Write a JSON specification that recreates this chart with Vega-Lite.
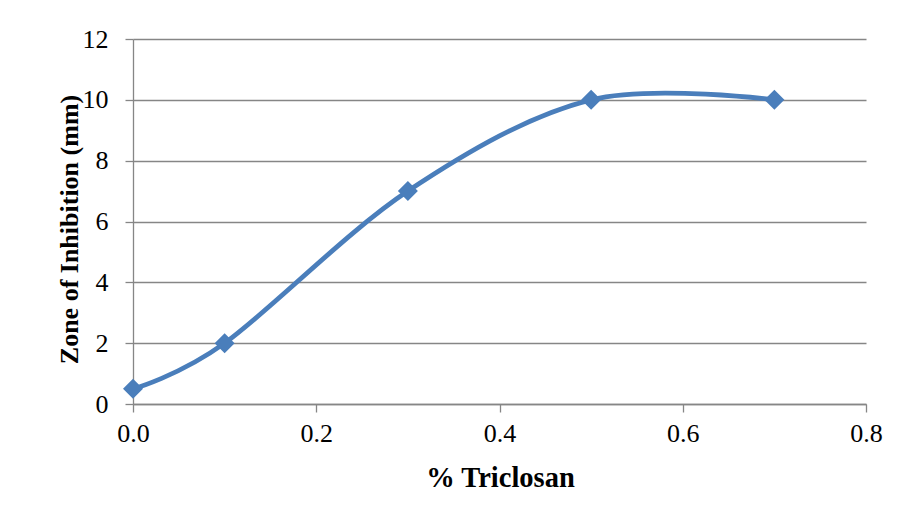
{
  "$schema": "https://vega.github.io/schema/vega-lite/v6.json",
  "width": 733,
  "height": 365,
  "autosize": {"type": "none"},
  "padding": {"left": 133, "top": 39, "right": 38, "bottom": 116},
  "background": "white",
  "config": {
    "view": {"stroke": null},
    "font": "Liberation Serif",
    "axis": {
      "labelFont": "Liberation Serif",
      "titleFont": "Liberation Serif",
      "labelFontSize": 26,
      "titleFontWeight": "bold",
      "labelColor": "black",
      "titleColor": "black",
      "gridColor": "#868686",
      "gridWidth": 1.3,
      "gridOpacity": 1,
      "domainColor": "#868686",
      "domainWidth": 1.3,
      "tickColor": "#868686",
      "tickWidth": 1.3,
      "tickSize": 8
    }
  },
  "data": {
    "values": [
      {"triclosan": 0.0, "zone": 0.5},
      {"triclosan": 0.1, "zone": 2},
      {"triclosan": 0.3, "zone": 7},
      {"triclosan": 0.5, "zone": 10},
      {"triclosan": 0.7, "zone": 10}
    ]
  },
  "encoding": {
    "x": {
      "field": "triclosan",
      "type": "quantitative",
      "title": "% Triclosan",
      "scale": {"domain": [0, 0.8], "nice": false, "zero": false},
      "axis": {"values": [0, 0.2, 0.4, 0.6, 0.8], "format": ".1f", "grid": false, "labelPadding": 8, "labelFlush": false, "titleFontSize": 28.5, "titleX": 367, "titleY": 82, "titleBaseline": "alphabetic", "titleAlign": "center"}
    },
    "y": {
      "field": "zone",
      "type": "quantitative",
      "title": "Zone of Inhibition (mm)",
      "scale": {"domain": [0, 12], "nice": false},
      "axis": {"values": [0, 2, 4, 6, 8, 10, 12], "grid": true, "labelPadding": 17, "labelFlush": false, "titleFontSize": 26, "titleX": -56, "titleY": 190, "titleBaseline": "alphabetic", "titleAlign": "center", "titleAngle": -90}
    }
  },
  "layer": [
    {
      "mark": {"type": "line", "interpolate": "cardinal", "color": "#4A7EBB", "strokeWidth": 4.8}
    },
    {
      "mark": {"type": "point", "shape": "diamond", "filled": true, "size": 400, "color": "#4A7EBB", "opacity": 1}
    }
  ]
}
